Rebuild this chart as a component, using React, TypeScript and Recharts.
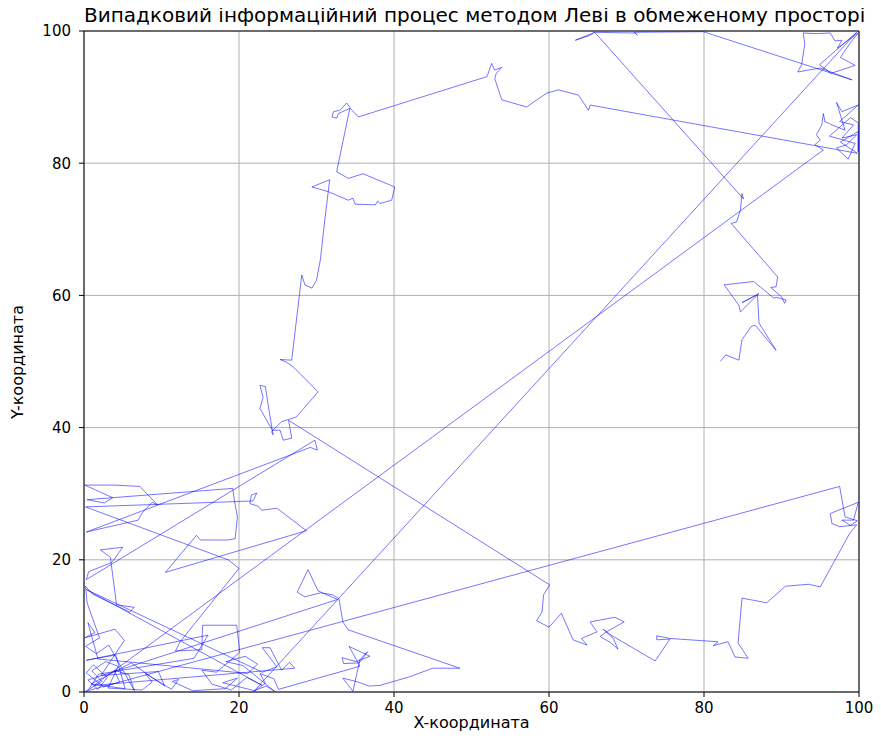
import { LineChart, Line, XAxis, YAxis, CartesianGrid, ReferenceLine } from 'recharts';

// walk pieces, in drawing order (x, y)
const midRightWalk: [number, number][] = [
  [82.1, 50.0], [82.8, 51.0], [84.5, 50.2], [84.9, 53.3], [86.1, 55.3], [86.6, 55.5], [89.3, 51.7],
  [87.1, 55.8], [86.9, 60.1], [84.9, 58.9], [87.1, 60.3], [84.7, 57.5], [84.5, 58.5], [82.6, 61.6],
  [86.4, 62.1], [89.0, 59.6], [89.4, 59.7], [90.6, 59.3], [90.4, 58.8], [90.0, 59.8], [88.6, 61.2],
  [89.3, 61.3], [89.5, 62.8], [83.5, 70.9], [84.2, 71.1], [84.7, 72.9], [84.9, 75.4], [85.1, 74.6],
];

const topEdgeWalk: [number, number][] = [
  [65.9, 99.8], [63.4, 98.6], [65.2, 99.3], [65.9, 99.8], [71.1, 99.7], [71.4, 99.4], [71.0, 99.8],
  [79.9, 99.9], [99.1, 92.6],
];

const topCornerCluster: [number, number][] = [
  [95.0, 94.4], [92.1, 93.8], [92.6, 94.9], [93.0, 98.0], [92.8, 99.7], [94.5, 99.6], [96.3, 99.7],
  [96.9, 98.5], [97.8, 98.6], [97.2, 97.4], [99.9, 99.7], [99.0, 98.4], [97.6, 96.0], [99.5, 94.8],
  [96.4, 93.6], [94.9, 94.9], [99.7, 99.8],
];

const bottomMidClutter: [number, number][] = [
  [21.9, 0.1], [23.4, 1.3], [22.7, 2.8], [24.5, 2.0], [25.1, 0.4], [35.6, 3.9], [34.2, 6.9],
  [36.9, 5.4], [35.1, 4.6], [33.3, 5.2], [33.5, 4.3], [35.5, 4.4], [36.6, 6.1], [35.6, 4.9],
  [34.7, 0.1], [33.4, 2.1], [35.4, 1.5], [36.8, 0.9], [38.2, 1.0], [42.0, 2.3], [45.0, 3.6],
  [48.5, 3.6], [34.1, 9.4], [33.4, 10.6], [32.9, 14.1], [32.1, 14.7], [30.5, 15.0], [28.5, 14.4],
  [27.5, 15.1], [28.9, 18.5], [30.2, 15.3], [32.7, 14.0],
];

const leftClutter: [number, number][] = [
  [0.5, 1.8], [1.8, 0.4], [3.0, 2.2], [1.2, 4.1], [0.3, 2.9], [2.5, 0.8], [4.6, 1.5], [3.9, 3.3],
  [5.8, 2.6], [6.5, 0.2], [3.2, 7.1], [1.6, 5.8], [0.2, 6.9], [2.0, 8.2], [0.4, 13.5], [0.2, 16.0],
  [1.1, 14.8], [5.9, 12.1], [6.5, 12.8], [4.2, 13.2], [3.4, 20.4], [2.1, 21.5], [5.0, 21.9],
  [3.6, 19.6], [0.6, 18.2], [0.3, 17.0], [29.8, 38.1], [30.1, 36.6], [29.2, 37.0], [0.3, 24.2],
  [2.5, 24.8], [7.0, 26.0], [7.5, 27.1], [8.8, 28.7], [9.5, 28.3], [7.2, 31.1], [4.0, 31.3],
  [0.1, 31.3], [3.7, 29.4], [2.6, 28.6], [0.4, 29.1], [19.2, 30.8], [19.4, 29.0], [19.8, 26.5],
  [19.5, 23.2], [18.6, 23.0], [15.0, 23.0], [14.5, 23.7], [10.5, 18.1], [28.7, 24.4], [24.9, 27.8],
  [22.9, 27.5], [22.5, 28.1], [21.4, 28.5], [21.6, 29.8], [22.3, 30.1], [21.8, 28.9], [0.2, 28.0],
  [18.6, 20.0], [20.0, 18.7], [12.4, 7.6], [11.8, 6.2], [15.2, 6.4], [15.3, 10.1], [19.7, 10.1],
  [20.1, 6.0], [17.1, 3.0], [15.2, 3.3], [16.5, 1.2], [19.0, 0.3], [21.0, 2.2], [23.0, 1.0],
  [0.3, 15.5], [23.0, 3.0], [24.9, 3.8], [23.0, 6.7], [24.0, 6.7], [25.5, 3.3], [26.5, 4.5],
  [27.2, 3.6], [1.3, 1.0],
];

const upperRightCluster: [number, number][] = [
  [95.4, 82.0], [94.3, 82.8], [95.0, 83.5], [94.5, 84.3], [95.2, 85.8], [95.4, 87.5], [95.6, 86.3],
  [96.5, 85.8], [98.2, 85.0], [97.1, 89.2], [97.8, 87.8], [99.9, 88.8], [97.5, 86.3], [99.3, 85.8],
  [97.8, 83.8], [99.7, 84.3], [98.4, 82.8], [97.1, 82.3], [98.6, 80.6], [99.5, 83.0], [96.2, 84.1],
  [98.9, 86.9], [99.9, 86.1], [99.9, 81.7], [99.9, 84.8], [97.6, 83.2], [99.8, 81.5],
];

const topMiddleWalk: [number, number][] = [
  [65.3, 88.8], [65.1, 88.0], [63.8, 90.3], [61.2, 91.1], [59.7, 90.6], [57.1, 88.5], [53.9, 89.6],
  [53.0, 92.8], [53.2, 93.6], [53.9, 94.5], [53.0, 94.1], [52.6, 95.1], [52.0, 93.1],
];

const upperLeftWalk: [number, number][] = [
  [35.4, 87.0], [34.5, 88.1], [33.9, 89.1], [33.0, 88.0], [32.2, 87.8], [32.0, 87.0], [32.6, 86.8],
  [32.8, 87.5], [34.3, 88.3], [32.6, 78.7], [34.1, 77.7], [36.0, 78.4], [40.1, 76.4], [39.7, 74.4],
  [38.2, 73.9], [37.9, 74.3], [37.6, 73.7], [35.0, 73.8], [34.7, 74.7], [34.1, 74.4], [31.5, 75.7],
  [29.4, 76.4], [31.7, 77.5], [31.1, 71.7], [30.5, 65.4], [30.0, 62.3], [29.4, 61.1], [28.5, 61.6],
  [28.1, 63.1], [26.8, 50.2], [25.3, 50.3], [26.1, 49.9], [27.0, 49.2], [30.2, 45.4], [27.4, 41.6],
  [25.5, 40.9], [24.2, 39.4], [24.4, 38.9], [23.8, 43.2], [23.4, 46.2], [22.7, 46.4], [23.1, 44.6],
  [22.7, 42.9], [24.3, 39.6], [25.3, 39.6], [25.7, 38.1], [26.8, 38.4], [26.4, 41.1],
];

const bottomRightWalk: [number, number][] = [
  [60.1, 16.2], [59.3, 14.7], [59.1, 12.1], [58.4, 10.8], [60.0, 9.8], [61.6, 11.9], [63.1, 7.9],
  [64.9, 7.1], [64.2, 8.1], [66.2, 9.1], [65.3, 10.6], [68.5, 11.3], [69.7, 10.6], [67.4, 9.1],
  [66.6, 8.4], [67.9, 7.5], [68.9, 6.5], [68.3, 8.1], [67.0, 9.5], [68.0, 8.6], [73.7, 4.7],
  [75.6, 8.0], [73.9, 7.9], [73.9, 8.5], [75.6, 8.1], [81.8, 7.6], [81.2, 7.0], [83.1, 7.6],
  [84.0, 5.3], [85.7, 5.1], [84.4, 7.4], [84.9, 14.2], [88.1, 13.5], [90.5, 16.0], [93.5, 16.3],
  [95.0, 15.9],
];

const rightEdgeCluster: [number, number][] = [
  [98.8, 24.0], [99.7, 25.3], [97.5, 25.0], [96.5, 25.5], [96.3, 27.0], [99.9, 28.7], [99.3, 26.0],
  [97.8, 26.0], [98.9, 25.2], [99.8, 25.9], [98.2, 26.5], [97.5, 31.1],
];

const originClutter: [number, number][] = [
  [0.2, 0.1], [2.3, 1.6], [1.0, 3.2], [2.8, 4.6], [4.4, 3.9], [3.1, 0.6], [7.5, 0.3], [8.8, 1.5],
  [7.9, 2.8], [11.3, 0.4], [12.2, 1.9], [11.4, 1.6], [14.0, 0.2], [18.2, 0.5], [19.8, 2.1],
  [17.9, 1.4], [22.0, 0.2], [23.5, 0.9], [24.6, 0.1], [20.5, 4.0], [18.3, 4.6], [20.8, 5.4],
  [22.4, 4.2], [21.1, 2.8], [1.8, 5.0], [0.5, 10.5], [1.4, 9.0], [0.1, 8.2], [4.0, 9.5], [5.2, 7.8],
  [2.2, 2.5], [9.6, 3.1], [10.4, 0.9], [6.1, 4.4], [0.9, 1.2], [5.3, 0.5], [4.1, 5.6], [0.3, 4.8],
  [16.0, 8.6], [14.2, 5.1], [1.9, 2.7], [0.6, 0.4],
];

const path = [
  ...midRightWalk, ...topEdgeWalk, ...topCornerCluster, ...bottomMidClutter, ...leftClutter,
  ...upperRightCluster, ...topMiddleWalk, ...upperLeftWalk, ...bottomRightWalk,
  ...rightEdgeCluster, ...originClutter,
];

const data = path.map(([x, y]) => ({ x, y }));
const ticks = [0, 20, 40, 60, 80, 100];

const font = '"DejaVu Sans", sans-serif';

export default function App() {
  return (
    <div style={{ position: 'relative', width: 865, height: 726, fontFamily: font }}>
      <LineChart width={865} height={726} data={data} margin={{ top: 23, right: 14, left: 0, bottom: 0 }}>
        <CartesianGrid stroke="#b0b0b0" strokeWidth={1} />
        <XAxis dataKey="x" type="number" domain={[0, 100]} ticks={ticks} height={42}
          tick={{ fill: '#000', fontSize: 15, fontFamily: font }} tickSize={5} tickMargin={5}
          stroke="#000" allowDataOverflow />
        <YAxis type="number" domain={[0, 100]} ticks={ticks} width={76}
          tick={{ fill: '#000', fontSize: 15, fontFamily: font }} tickSize={5} tickMargin={8}
          stroke="#000" allowDataOverflow />
        <ReferenceLine y={100} stroke="#000" />
        <ReferenceLine x={100} stroke="#000" />
        <Line dataKey="y" type="linear" stroke="#0000ff" strokeOpacity={0.6} strokeWidth={0.9}
          dot={false} isAnimationActive={false} />
      </LineChart>
      <div style={{ position: 'absolute', zIndex: 2, left: 76, width: 775, top: -4, textAlign: 'center', fontSize: 20, lineHeight: '22px', whiteSpace: 'nowrap' }}>
        Випадковий інформаційний процес методом Леві в обмеженому просторі
      </div>
      <div style={{ position: 'absolute', zIndex: 2, left: 76, width: 775, top: 706, textAlign: 'center', fontSize: 16, lineHeight: '18px' }}>
        X-координата
      </div>
      <div style={{ position: 'absolute', zIndex: 2, left: 10, top: 354, fontSize: 16, lineHeight: '18px', transform: 'translate(-50%, -50%) rotate(-90deg)', whiteSpace: 'nowrap' }}>
        Y-координата
      </div>
    </div>
  );
}
